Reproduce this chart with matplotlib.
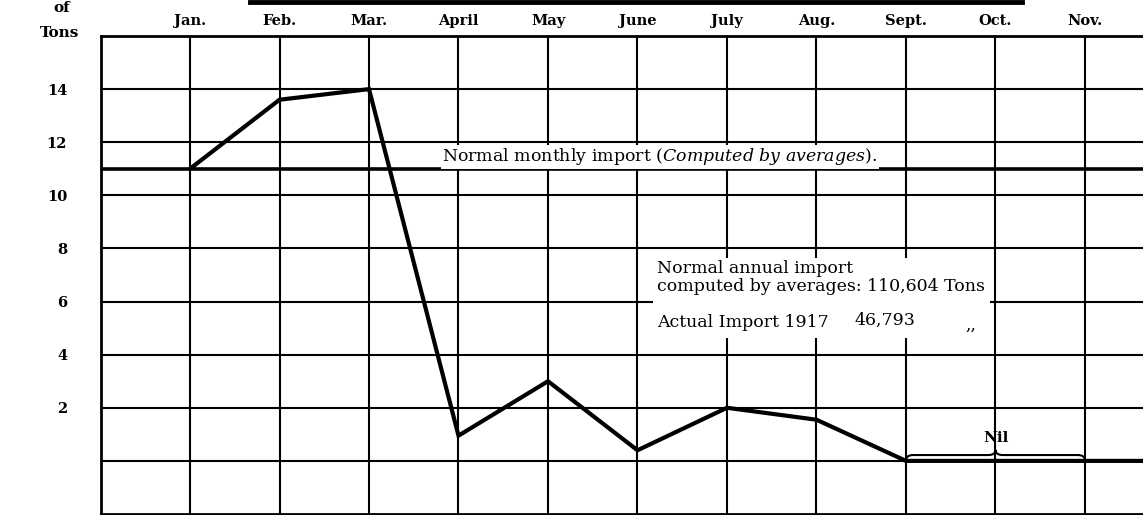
import matplotlib
matplotlib.use("Agg")
import matplotlib.pyplot as plt
from matplotlib.path import Path
from matplotlib.patches import PathPatch, Rectangle

plt.rcParams["mathtext.fontset"] = "dejavuserif"

# Monthly imports, thousands of tons (1917)
months = ["Jan.", "Feb.", "Mar.", "April", "May", "June", "July", "Aug.",
          "Sept.", "Oct.", "Nov.", "Dec."]
imports_1917 = [11, 13.6, 14, 0.95, 3, 0.4, 2, 1.55, 0, 0, 0, 0]
normal_monthly = 11
y_ticks = [0, 2, 4, 6, 8, 10, 12, 14]
y_tick_labels = ["", "2", "4", "6", "8", "10", "12", "14"]
nil_months = ["Oct.", "Nov."]
normal_annual = "110,604"
actual_annual = "46,793"

W, H = 1143, 515
fig = plt.figure(figsize=(W / 100, H / 100), dpi=100)
x0_px, top_px, bot_px = 100.5, 36, 514
ax = fig.add_axes([x0_px / W, (H - bot_px) / H, 1 - x0_px / W, (bot_px - top_px) / H])

serif = ["DejaVu Serif"]
x_pos = list(range(1, len(months) + 1))
x_max = (W - x0_px) / 89.5

# grid
for x in x_pos:
    ax.axvline(x, color="black", lw=1.5, zorder=1)
for y in y_ticks:
    ax.axhline(y, color="black", lw=1.5, zorder=1)

ax.spines["right"].set_visible(False)
for side in ["left", "top", "bottom"]:
    ax.spines[side].set_linewidth(2.0)

ax.xaxis.tick_top()
ax.set_xticks(x_pos)
ax.set_xticklabels(months, fontsize=10.5, fontweight="bold", family=serif)
ax.set_yticks(y_ticks)
ax.set_yticklabels(y_tick_labels, fontsize=10.5, fontweight="bold", family=serif)
ax.tick_params(axis="both", length=0)
ax.tick_params(axis="x", pad=6)
ax.tick_params(axis="y", pad=24)
ax.set_xlim(0, x_max)
ax.set_ylim(-2, 16)

# normal monthly import
ax.axhline(normal_monthly, color="black", lw=2.6, zorder=2)
ax.text(6.25, normal_monthly + 0.45,
        r"Normal monthly import ($\mathit{Computed\ by\ averages}$).",
        ha="center", va="center", fontsize=12.5, family=serif, zorder=4,
        bbox=dict(facecolor="white", edgecolor="none", pad=1.0))

# actual imports
ax.plot(x_pos, imports_1917, color="black", lw=3, solid_joinstyle="miter",
        zorder=3)

# annual summary block
ax.add_patch(Rectangle((6.17, 4.63), 3.77, 3.0, facecolor="white",
                       edgecolor="none", zorder=2.5))
fs_note = 12.5
ax.text(6.22, 7.26, "Normal annual import", ha="left", va="center",
        fontsize=fs_note, family=serif, zorder=4)
ax.text(6.22, 6.55, f"computed by averages: {normal_annual} Tons", ha="left",
        va="center", fontsize=fs_note, family=serif, zorder=4)
ax.text(6.22, 5.23, "Actual Import 1917", ha="left", va="center",
        fontsize=fs_note, family=serif, zorder=4)
ax.text(8.43, 5.3, actual_annual, ha="left", va="center",
        fontsize=fs_note, family=serif, zorder=4)
ax.text(9.66, 5.1, ",,", ha="left", va="center",
        fontsize=fs_note, family=serif, zorder=4)

# brace over the nil months
b0 = x_pos[months.index(nil_months[0])] - 1
b1 = x_pos[months.index(nil_months[-1])]
bm = (b0 + b1) / 2
yb, yl, yp, r = 0.02, 0.22, 0.42, 0.08
verts = [(b0, yb), (b0, yl), (b0 + r, yl), (bm - r, yl), (bm, yl), (bm, yp),
         (bm, yl), (bm + r, yl), (b1 - r, yl), (b1, yl), (b1, yb)]
codes = [Path.MOVETO, Path.CURVE3, Path.CURVE3, Path.LINETO, Path.CURVE3,
         Path.CURVE3, Path.CURVE3, Path.CURVE3, Path.LINETO, Path.CURVE3,
         Path.CURVE3]
ax.add_patch(PathPatch(Path(verts, codes), facecolor="none", edgecolor="black",
                       lw=1.5, zorder=4))
ax.text(bm, 0.85, "Nil", ha="center", va="center", fontsize=11,
        fontweight="bold", family=serif, zorder=4)

# axis unit label (upper-left corner)
fig.text(62 / W, 1 - 8 / H, "of", ha="center", va="center", fontsize=11,
         fontweight="bold", family=serif)
fig.text(60 / W, 1 - 33 / H, "Tons", ha="center", va="center", fontsize=11,
         fontweight="bold", family=serif)

# rule under the title
fig.add_artist(plt.Line2D([250 / W, 1022 / W], [1 - 1.5 / H, 1 - 1.5 / H],
                          color="black", lw=3.5))

fig.savefig("out.png", dpi=100)
